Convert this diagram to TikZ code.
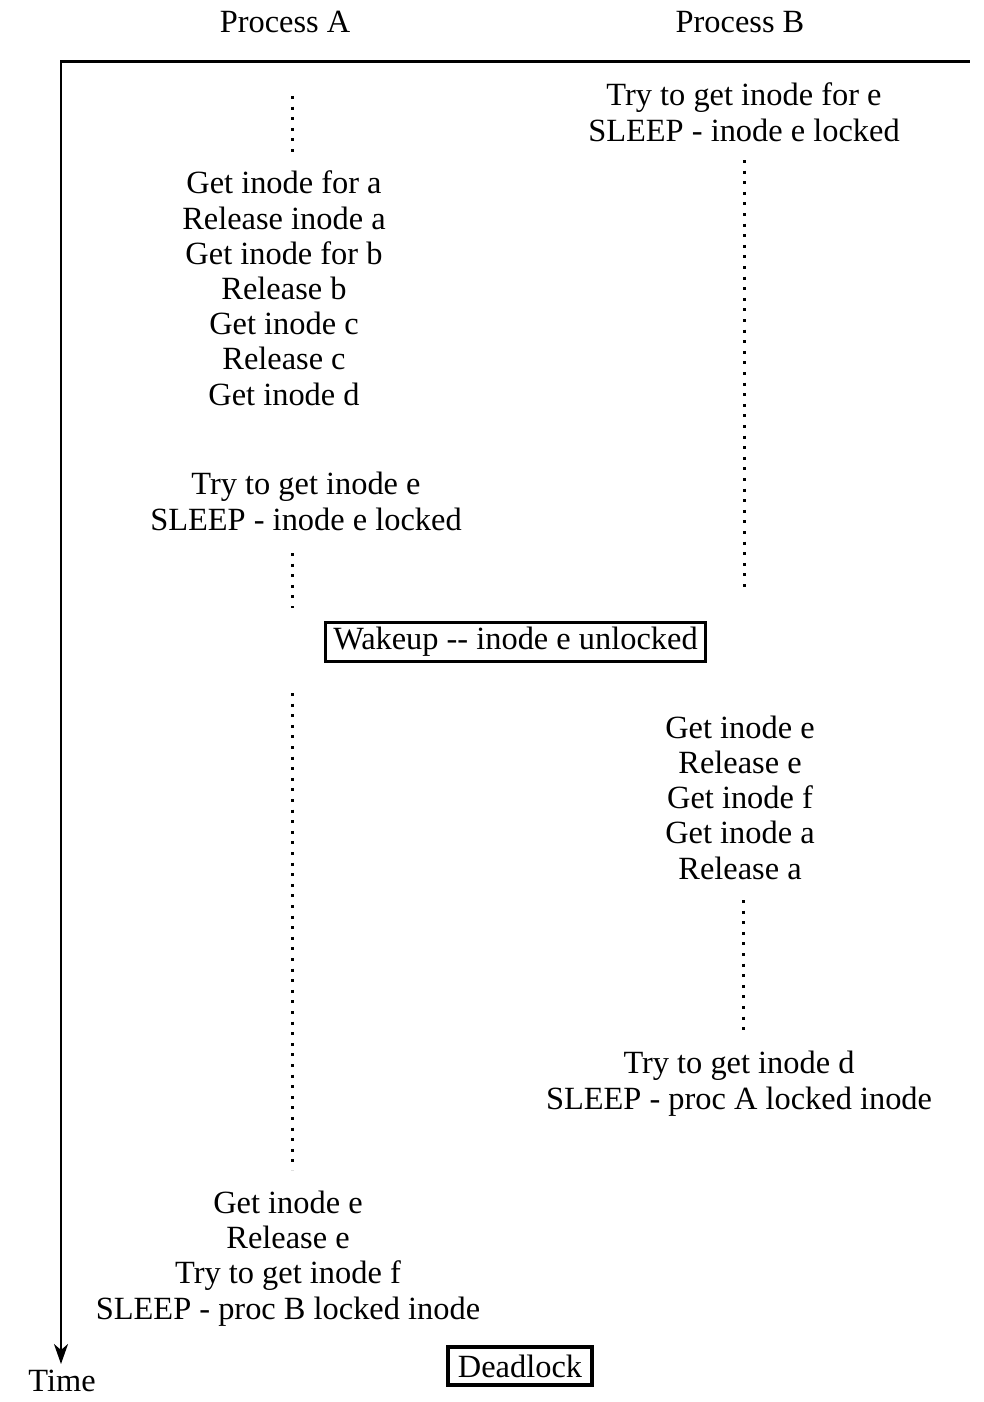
\documentclass[tikz,border=0pt]{standalone}
\usepackage{fontspec}
\setmainfont{Liberation Serif}
\usetikzlibrary{arrows.meta}
\tikzset{
	steptext/.style = {
		align=center,
		inner sep=0pt,
		font=\fontsize{16.2}{17.6}\selectfont,
		anchor=base
	},
	proclabel/.style = {
		steptext
	},
	eventbox/.style = {
		steptext,
		anchor=center,
		draw=black,
		line width=1.6pt
	},
	waitline/.style = {
		line width=1.5pt,
		dash pattern=on 1.5pt off 3.8pt
	},
	axisline/.style = {
		line width=1pt
	},
}

\begin{document}
\begin{tikzpicture}[x=0.5pt, y=-0.5pt, >={Stealth[length=10pt,width=7pt,inset=3pt]}]
\useasboundingbox (0,0) rectangle (984,1402);

% column heads and time axis
\node [proclabel] (procA) at (285,33) {Process A};
\node [proclabel] (procB) at (740,33) {Process B};
\coordinate (axisorigin) at (61,62);
\coordinate (axisright) at (970,62);
\coordinate (axisend) at (61,1364);
\draw [line width=1.5pt] (60,62) -- (axisright);
\draw [axisline,->] (axisorigin) -- (axisend);
\node [steptext] (time) at (62,1391) {Time};

% process A (base = last line)
\node [steptext] (stepsA) at (284,405) {Get inode for a\\Release inode a\\Get inode for b\\Release b\\Get inode c\\Release c\\Get inode d};
\node [steptext] (sleepA) at (306,530) {Try to get inode e\\SLEEP - inode e locked};
\node [steptext] (lockA) at (288,1319) {Get inode e\\Release e\\Try to get inode f\\SLEEP - proc B locked inode};

% process B
\node [steptext] (sleepB) at (744,141) {Try to get inode for e\\SLEEP - inode e locked};
\node [steptext] (stepsB) at (740,879) {Get inode e\\Release e\\Get inode f\\Get inode a\\Release a};
\node [steptext] (lockB) at (739,1109) {Try to get inode d\\SLEEP - proc A locked inode};

% events
\node [eventbox, minimum width=190pt, minimum height=19.5pt] (wakeup) at (515.5,642) {Wakeup -{}- inode e unlocked};
\node [eventbox, minimum width=72pt, minimum height=19pt] (deadlock) at (520,1366) {Deadlock};

% waiting periods
\coordinate (waitA1s) at (292,96);
\coordinate (waitA1e) at (292,158);
\coordinate (waitA2s) at (292,553);
\coordinate (waitA2e) at (292,608);
\coordinate (waitA3s) at (292,693);
\coordinate (waitA3e) at (292,1170);
\coordinate (waitB1s) at (744,160);
\coordinate (waitB1e) at (744,590);
\coordinate (waitB2s) at (743,900);
\coordinate (waitB2e) at (743,1030);
\draw [waitline] (waitA1s) -- (waitA1e);
\draw [waitline] (waitA2s) -- (waitA2e);
\draw [waitline] (waitA3s) -- (waitA3e);
\draw [waitline] (waitB1s) -- (waitB1e);
\draw [waitline] (waitB2s) -- (waitB2e);
\end{tikzpicture}
\end{document}
